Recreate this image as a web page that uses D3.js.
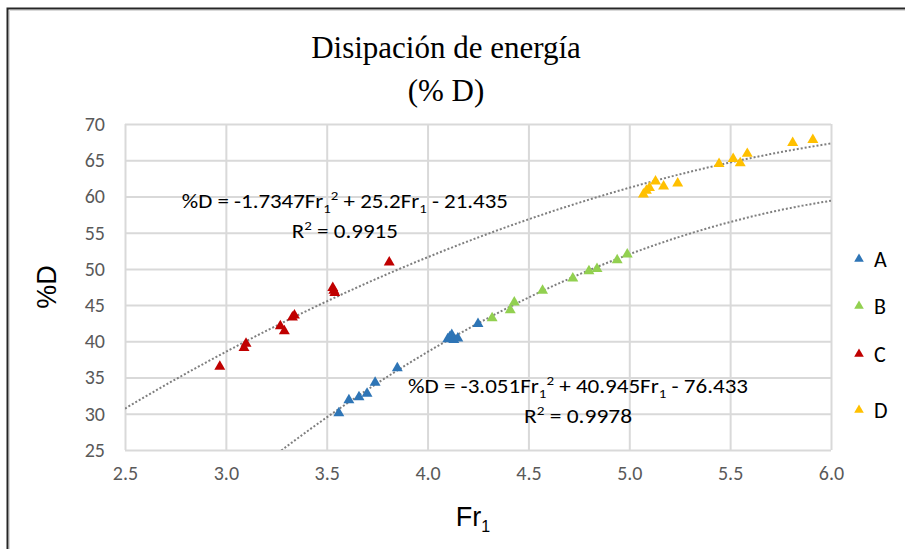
<!DOCTYPE html>
<html>

<head>
  <title>Disipación de energía</title>
  <style>
    body { margin: 0; background: #fff; overflow: hidden; }
    svg { display: block; }
  </style>
</head>

<body>

  <svg id="main" width="905" height="549"></svg>

  <script src="https://cdn.jsdelivr.net/npm/d3@7"></script>
  <script>

    // series
    const seriesNames = ['A', 'B', 'C', 'D']
    const seriesColors = ['#2E75B6', '#92D050', '#C00000', '#FFC000']

    const aFr = [3.56, 3.61, 3.66, 3.70, 3.74, 3.85, 4.10, 4.11, 4.12, 4.13, 4.15, 4.25]
    const aD = [30.1, 31.9, 32.3, 32.8, 34.3, 36.3, 40.3, 40.6, 40.9, 40.2, 40.4, 42.4]

    const bFr = [4.32, 4.41, 4.43, 4.57, 4.72, 4.80, 4.84, 4.94, 4.99]
    const bD = [43.2, 44.3, 45.4, 47.0, 48.7, 49.7, 50.0, 51.2, 52.0]

    const cFr = [2.97, 3.09, 3.10, 3.27, 3.29, 3.33, 3.34, 3.53, 3.535, 3.54, 3.81]
    const cD = [36.5, 39.1, 39.7, 42.1, 41.4, 43.3, 43.6, 47.4, 47.0, 46.7, 50.9]

    const dFr = [5.07, 5.085, 5.10, 5.13, 5.17, 5.24, 5.445, 5.515, 5.55, 5.585, 5.81, 5.91]
    const dD = [60.3, 60.8, 61.2, 62.1, 61.4, 61.8, 64.5, 65.2, 64.6, 65.9, 67.4, 67.8]

    const xTicks = [2.5, 3.0, 3.5, 4.0, 4.5, 5.0, 5.5, 6.0]
    const yTicks = [25, 30, 35, 40, 45, 50, 55, 60, 65, 70]

    // polynomial trendlines (coefficients as printed on the chart)
    const trendUpper = [-1.7347, 25.2, -21.435]
    const trendLower = [-3.051, 40.945, -76.433]

    const series = [
      { name: 'A', xs: aFr, ys: aD },
      { name: 'B', xs: bFr, ys: bD },
      { name: 'C', xs: cFr, ys: cD },
      { name: 'D', xs: dFr, ys: dD }
    ]

    const svg = d3.select('#main')
    const margin = { top: 124, left: 125, right: 74, bottom: 99 }
    const width = +svg.attr('width')
    const height = +svg.attr('height')
    const innerWidth = width - margin.left - margin.right
    const innerHeight = height - margin.top - margin.bottom

    const sansFont = 'Carlito, Calibri, Lato, sans-serif'
    const tickColor = '#595959'

    // frame
    svg.append('rect').attr('width', width).attr('height', height).attr('fill', '#fff')
    svg.append('path')
      .attr('d', `M7.5,${height} V8.5 H${width}`)
      .attr('fill', 'none')
      .attr('stroke', '#262626')
      .attr('stroke-width', 2)
    svg.append('path')
      .attr('d', `M9.5,${height} V10.5 H${width}`)
      .attr('fill', 'none')
      .attr('stroke', '#d9d9d9')
      .attr('stroke-width', 1)

    const x = d3.scaleLinear().domain([2.5, 6.0]).range([0, innerWidth])
    const y = d3.scaleLinear().domain([25, 70]).range([innerHeight, 0])
    const color = d3.scaleOrdinal().domain(seriesNames).range(seriesColors)

    const chart = svg.append('g')
      .attr('transform', `translate(${margin.left},${margin.top})`)

    chart.append('clipPath').attr('id', 'plotclip')
      .append('rect').attr('width', innerWidth).attr('height', innerHeight)

    // gridlines + tick labels
    chart.append('g')
      .attr('transform', `translate(0,${innerHeight})`)
      .call(d3.axisBottom(x).tickValues(xTicks).tickSize(-innerHeight).tickFormat(d3.format('.1f')).tickPadding(16))
      .attr('font-size', 20)
      .attr('font-family', sansFont)
      .call(g => g.select('.domain').remove())
      .call(g => g.selectAll('line').attr('stroke', '#d9d9d9').attr('stroke-width', 2))
      .call(g => g.selectAll('text').attr('fill', tickColor))

    chart.append('g')
      .call(d3.axisLeft(y).tickValues(yTicks).tickSize(-innerWidth).tickPadding(20))
      .attr('font-size', 20)
      .attr('font-family', sansFont)
      .call(g => g.select('.domain').remove())
      .call(g => g.selectAll('line').attr('stroke', '#d9d9d9').attr('stroke-width', 2))
      .call(g => g.selectAll('text').attr('fill', tickColor))

    // trendlines
    const poly = c => v => c[0] * v * v + c[1] * v + c[2]
    const xs = d3.range(2.5, 6.0001, 0.02)
    const line = d3.line().x(d => x(d[0])).y(d => y(d[1]))

    const trends = chart.append('g').attr('clip-path', 'url(#plotclip)')
    ;[trendUpper, trendLower].forEach(c => {
      const f = poly(c)
      trends.append('path')
        .datum(xs.map(v => [v, f(v)]))
        .attr('d', line)
        .attr('fill', 'none')
        .attr('stroke', '#7f7f7f')
        .attr('stroke-width', 2)
        .attr('stroke-dasharray', '2,2')
    })

    // markers
    const tri = d3.symbol().type(d3.symbolTriangle).size(52)
    series.forEach(s => {
      chart.append('g')
        .selectAll('path')
        .data(s.xs.map((v, i) => [v, s.ys[i]]))
        .join('path')
        .attr('d', tri)
        .attr('transform', d => `translate(${x(d[0])},${y(d[1])})`)
        .attr('fill', color(s.name))
    })

    // equations: parts are [text, dy, small]
    function fitText(sel, target) {
      sel.attr('textLength', target).attr('lengthAdjust', 'spacingAndGlyphs')
    }

    function equation(cx, cy, a, b, c, r2, w1, w2) {
      const parts = [
        ['%D = ' + a + 'Fr', 0, false], ['1', 5, true], ['2', -13, true],
        [' + ' + b + 'Fr', 8, false], ['1', 5, true], [' - ' + c, -5, false]
      ]
      const t = chart.append('text')
        .attr('x', cx).attr('y', cy)
        .attr('text-anchor', 'middle')
        .attr('font-family', sansFont)
        .attr('font-size', '20px')
        .attr('fill', '#000')
      parts.forEach(p => {
        t.append('tspan').text(p[0]).attr('dy', p[1]).attr('font-size', p[2] ? '13px' : null)
      })
      fitText(t, w1)

      const r = chart.append('text')
        .attr('x', cx).attr('y', cy + 30)
        .attr('text-anchor', 'middle')
        .attr('font-family', sansFont)
        .attr('font-size', '20px')
        .attr('fill', '#000')
      r.append('tspan').text('R')
      r.append('tspan').text('2').attr('font-size', '13px').attr('dy', -8)
      r.append('tspan').text(' = ' + r2).attr('dy', 8)
      fitText(r, w2)
    }

    equation(x(3.59), y(58.4), '-1.7347', '25.2', '21.435', '0.9915', 326, 106)
    equation(x(4.746), y(32.9), '-3.051', '40.945', '76.433', '0.9978', 340, 108)

    // title
    const title = svg.append('text')
      .attr('text-anchor', 'middle')
      .attr('font-family', '"Liberation Serif", "Times New Roman", serif')
      .attr('font-size', '31px')
      .attr('fill', '#000')
    title.append('tspan').attr('x', 446).attr('y', 58).text('Disipación  de energía')
    title.append('tspan').attr('x', 446).attr('y', 101).text('(% D)')

    // axis titles
    const xt = svg.append('text')
      .attr('x', margin.left + innerWidth / 2 - 5)
      .attr('y', 526)
      .attr('text-anchor', 'middle')
      .attr('font-family', '"Liberation Sans Narrow", "Arial Narrow", sans-serif')
      .attr('font-size', '27px')
      .attr('fill', '#000')
    xt.append('tspan').text('Fr')
    xt.append('tspan').text('1').attr('font-size', '16px').attr('dy', 6)

    svg.append('text')
      .attr('transform', `translate(56,${margin.top + innerHeight / 2}) rotate(-90)`)
      .attr('text-anchor', 'middle')
      .attr('font-family', '"Liberation Sans Narrow", "Arial Narrow", sans-serif')
      .attr('font-size', '27px')
      .attr('fill', '#000')
      .text('%D')

    // legend
    const legendY = [259, 306, 354, 410]
    const legend = svg.append('g')
    seriesNames.forEach((n, i) => {
      legend.append('path')
        .attr('d', d3.symbol().type(d3.symbolTriangle).size(40))
        .attr('transform', `translate(859,${legendY[i]})`)
        .attr('fill', color(n))
      legend.append('text')
        .attr('x', 874).attr('y', legendY[i] + 8)
        .attr('font-family', sansFont)
        .attr('font-size', '22px')
        .attr('fill', '#000')
        .text(n)
    })

  </script>
</body>

</html>
